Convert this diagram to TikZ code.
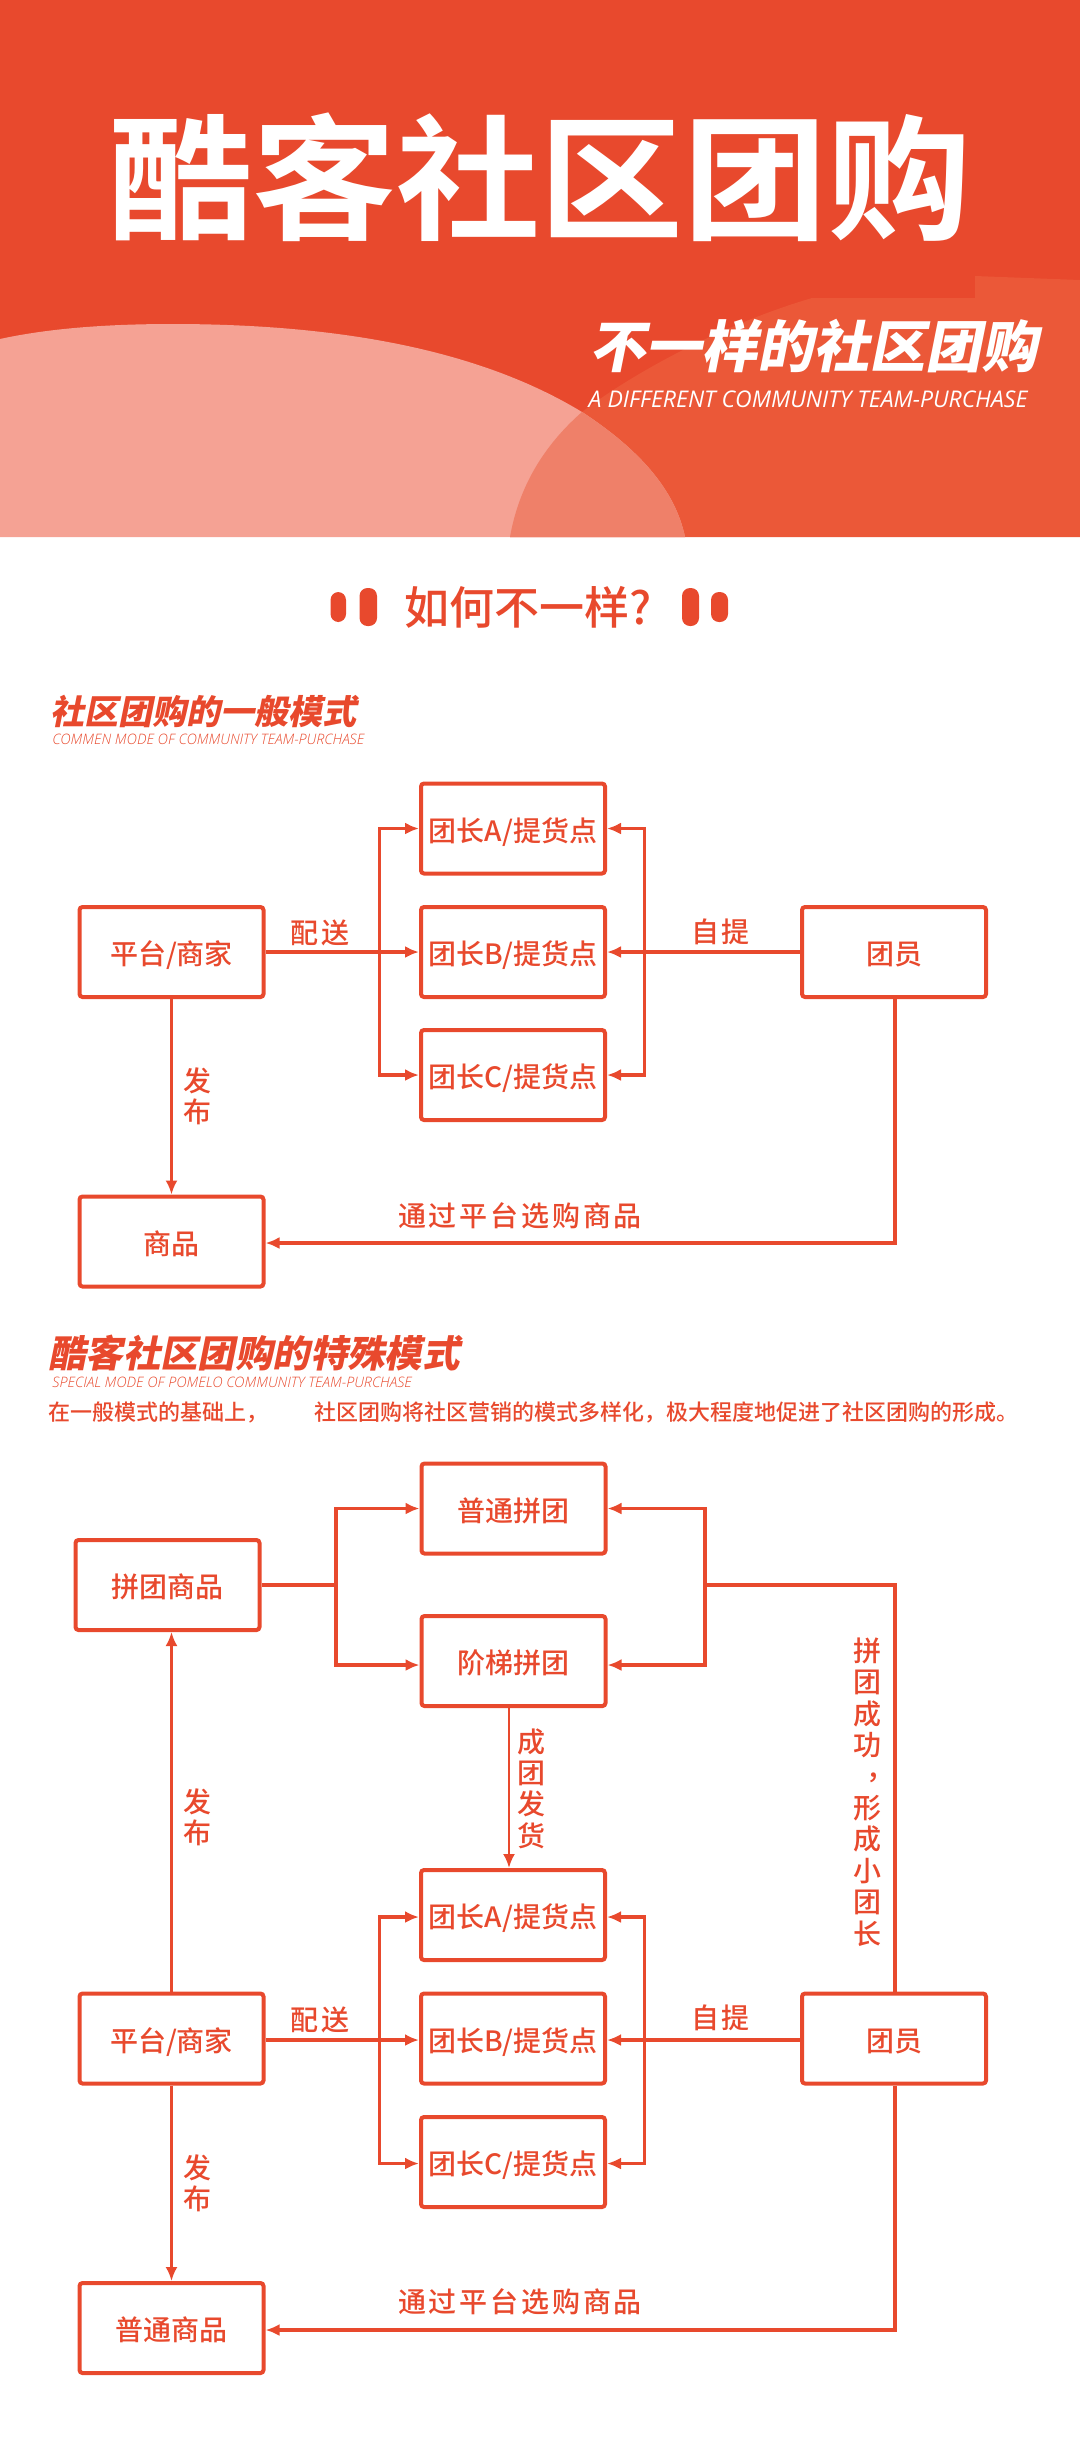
\documentclass[tikz,border=0pt]{standalone}
\usepackage{fontspec}
\usetikzlibrary{arrows.meta}

\setmainfont{Noto Sans CJK SC Medium}
\newfontfamily\cjkbold{Noto Sans CJK SC Bold}
\newfontfamily\cjkslant[FakeSlant=0.2]{Noto Sans CJK SC Black}
\newfontfamily\cjkspaced[LetterSpace=10]{Noto Sans CJK SC Medium}
\newfontfamily\engslant{Open Sans Light Italic}
\newfontfamily\engbanner{Open Sans Italic}
\definecolor{brand}{HTML}{E8492D}
\definecolor{brandlight}{HTML}{EB5838}
\definecolor{blush}{HTML}{F5A294}
\definecolor{blushdeep}{HTML}{EF8069}
\newcommand{\blushpath}{(0,339) .. controls (50,328) and (110,324) .. (172,324) .. controls (340,324) and (480,350) .. (582,412) .. controls (640,450) and (675,490) .. (685,537) -- (0,537) -- cycle}
\newcommand{\swooshpath}{(510,537) .. controls (520,480) and (550,440) .. (582,412) .. controls (630,375) and (720,325) .. (812,298) -- (975,298) -- (975,276) -- (1080,280) -- (1080,537) -- cycle}

\begin{document}
\begin{tikzpicture}[x=0.5pt,y=-0.5pt]
      \tikzset { box/.style = { shape=rectangle,draw=brand,line width=2pt,rounded corners=1.5pt,minimum width=92pt,minimum height=45pt,inner sep=0pt,text=brand,text height=14pt,text depth=1.5pt,font=\fontsize{14}{16}\selectfont } }
      \tikzset { edge/.style = { -{Latex[length=7pt,width=6pt]},draw=brand,line width=1.8pt } }
      \tikzset { thinedge/.style = { -{Latex[length=7pt,width=6pt]},draw=brand,line width=1.3pt } }
      \tikzset { wire/.style = { draw=brand,line width=1.8pt } }
      \tikzset { lbl/.style = { text=brand,inner sep=0pt,align=center,font=\cjkspaced\fontsize{14}{15.7}\selectfont } }
      \tikzset { pill/.style = { fill=brand,rounded corners=4pt } }

      \useasboundingbox (0,0) rectangle (1080,2459);

      % banner
      \fill[brand] (0,0) rectangle (1080,537);
      \fill[brandlight] \swooshpath;
      \fill[blush] \blushpath;
      \begin{scope}
        \clip \blushpath;
        \fill[blushdeep] \swooshpath;
      \end{scope}
      \node[text=white,inner sep=0pt,font=\cjkbold\fontsize{72}{72}\selectfont] (title) at (540,177) {\scalebox{1}[0.94]{酷客社区团购}};
      \node[text=white,inner sep=0pt,font=\cjkslant\fontsize{28}{28}\selectfont] (subtitle) at (813,346) {不一样的社区团购};
      \node[text=white,inner sep=0pt,font=\engbanner\fontsize{11.5}{12}\selectfont] (subeng) at (808,399) {A DIFFERENT COMMUNITY TEAM-PURCHASE};

      % question
      \node[text=brand,inner sep=0pt,font=\fontsize{22.5}{22}\selectfont] (question) at (528,607) {如何不一样?};
      \fill[pill] (330.5,592) rectangle (346,622);
      \fill[pill] (359.5,588) rectangle (377,626);
      \fill[pill] (682,588) rectangle (699,626);
      \fill[pill] (711,592) rectangle (728,622);

      % common mode
      \node[anchor=west,text=brand,inner sep=0pt,font=\cjkslant\fontsize{17}{17}\selectfont] (head) at (50,711) {社区团购的一般模式};
      \node[anchor=west,text=brand,inner sep=0pt,font=\engslant\fontsize{7.2}{8}\selectfont] (headeng) at (52,739) {COMMEN MODE OF COMMUNITY TEAM-PURCHASE};

      \node[box] (shop) at (171.5,952) {平台/商家};
      \node[box] (goods) at (171.5,1241.5) {商品};
      \node[box] (leadera) at (513,828.5) {团长A/提货点};
      \node[box] (leaderb) at (513,952) {团长B/提货点};
      \node[box] (leaderc) at (513,1075) {团长C/提货点};
      \node[box] (member) at (894,952) {团员};
      \coordinate (forkl) at (379.5,952);
      \coordinate (forkr) at (644.5,952);
      \coordinate (corner) at (895,1243);

      \draw[edge] (shop) to (leaderb);
      \draw[edge] (member) to (leaderb);
      \draw[edge] (forkl) |- (leadera);
      \draw[edge] (forkl) |- (leaderc);
      \draw[edge] (forkr) |- (leadera);
      \draw[edge] (forkr) |- (leaderc);
      \draw[thinedge] (shop) to (goods);
      \draw[edge] (member.south -| corner) -- (corner) -- (goods.east |- corner);

      \node[lbl] (send) at (320,933) {配送};
      \node[lbl] (pick) at (720.5,932) {自提};
      \node[lbl] (post) at (197,1096.5) {发\\布};
      \node[lbl] (buy) at (520,1215.5) {通过平台选购商品};

      % special mode
      \node[anchor=west,text=brand,inner sep=0pt,font=\cjkslant\fontsize{18.7}{19}\selectfont] (headb) at (48,1353) {酷客社区团购的特殊模式};
      \node[anchor=west,text=brand,inner sep=0pt,font=\engslant\fontsize{7.2}{8}\selectfont] (headbeng) at (52,1382) {SPECIAL MODE OF POMELO COMMUNITY TEAM-PURCHASE};
      \node[anchor=west,text=brand,inner sep=0pt,font=\fontsize{11}{11}\selectfont] (introa) at (48,1412) {在一般模式的基础上，};
      \node[anchor=west,text=brand,inner sep=0pt,font=\fontsize{11}{11}\selectfont] (introb) at (314,1412) {社区团购将社区营销的模式多样化，极大程度地促进了社区团购的形成。};

      \node[box] (deal) at (167.5,1585) {拼团商品};
      \node[box] (plain) at (513.5,1508.5) {普通拼团};
      \node[box] (ladder) at (513.5,1661) {阶梯拼团};
      \node[box] (shopb) at (171.5,2038.5) {平台/商家};
      \node[box] (goodsb) at (171.5,2328) {普通商品};
      \node[box] (leaderd) at (513,1915) {团长A/提货点};
      \node[box] (leadere) at (513,2038.5) {团长B/提货点};
      \node[box] (leaderf) at (513,2162) {团长C/提货点};
      \node[box] (memberb) at (894,2038.5) {团员};
      \coordinate (forka) at (336,1585);
      \coordinate (forkb) at (705,1585);
      \coordinate (forkc) at (379.5,2040);
      \coordinate (forkd) at (644.5,2040);
      \coordinate (bend) at (895,1585);
      \coordinate (cornerb) at (895,2330);
      \coordinate (drop) at (509,1700);

      \draw[wire] (deal) to (forka);
      \draw[edge] (forka) |- (plain);
      \draw[edge] (forka) |- ([yshift=-2pt]ladder.west);
      \draw[edge] (forkb) |- (plain);
      \draw[edge] (forkb) |- ([yshift=-2pt]ladder.east);
      \draw[wire] (memberb.north -| bend) -- (bend) -- (forkb);
      \draw[thinedge] (ladder.south -| drop) -- (leaderd.north -| drop);
      \draw[thinedge] (shopb) to (deal.south -| shopb);

      \draw[edge] ([yshift=-0.75pt]shopb.east) -- ([yshift=-0.75pt]leadere.west);
      \draw[edge] ([yshift=-0.75pt]memberb.west) -- ([yshift=-0.75pt]leadere.east);
      \draw[edge] (forkc) |- ([yshift=-1pt]leaderd.west);
      \draw[edge] (forkc) |- ([yshift=-0.75pt]leaderf.west);
      \draw[edge] (forkd) |- ([yshift=-1pt]leaderd.east);
      \draw[edge] (forkd) |- ([yshift=-0.75pt]leaderf.east);
      \draw[thinedge] (shopb) to (goodsb);
      \draw[edge] (memberb.south -| cornerb) -- (cornerb) -- (goodsb.east |- cornerb);

      \node[lbl] (postb) at (197,1817) {发\\布};
      \node[lbl] (ship) at (531.5,1788.5) {成\\团\\发\\货};
      \node[lbl] (grow) at (867,1792) {拼\\团\\成\\功\\\hspace*{13pt}\raisebox{4pt}{，}\\形\\成\\小\\团\\长};
      \node[lbl] (sendb) at (320,2019.5) {配送};
      \node[lbl] (pickb) at (720.5,2018) {自提};
      \node[lbl] (postc) at (197,2183) {发\\布};
      \node[lbl] (buyb) at (520,2302) {通过平台选购商品};

    \end{tikzpicture}
\end{document}
